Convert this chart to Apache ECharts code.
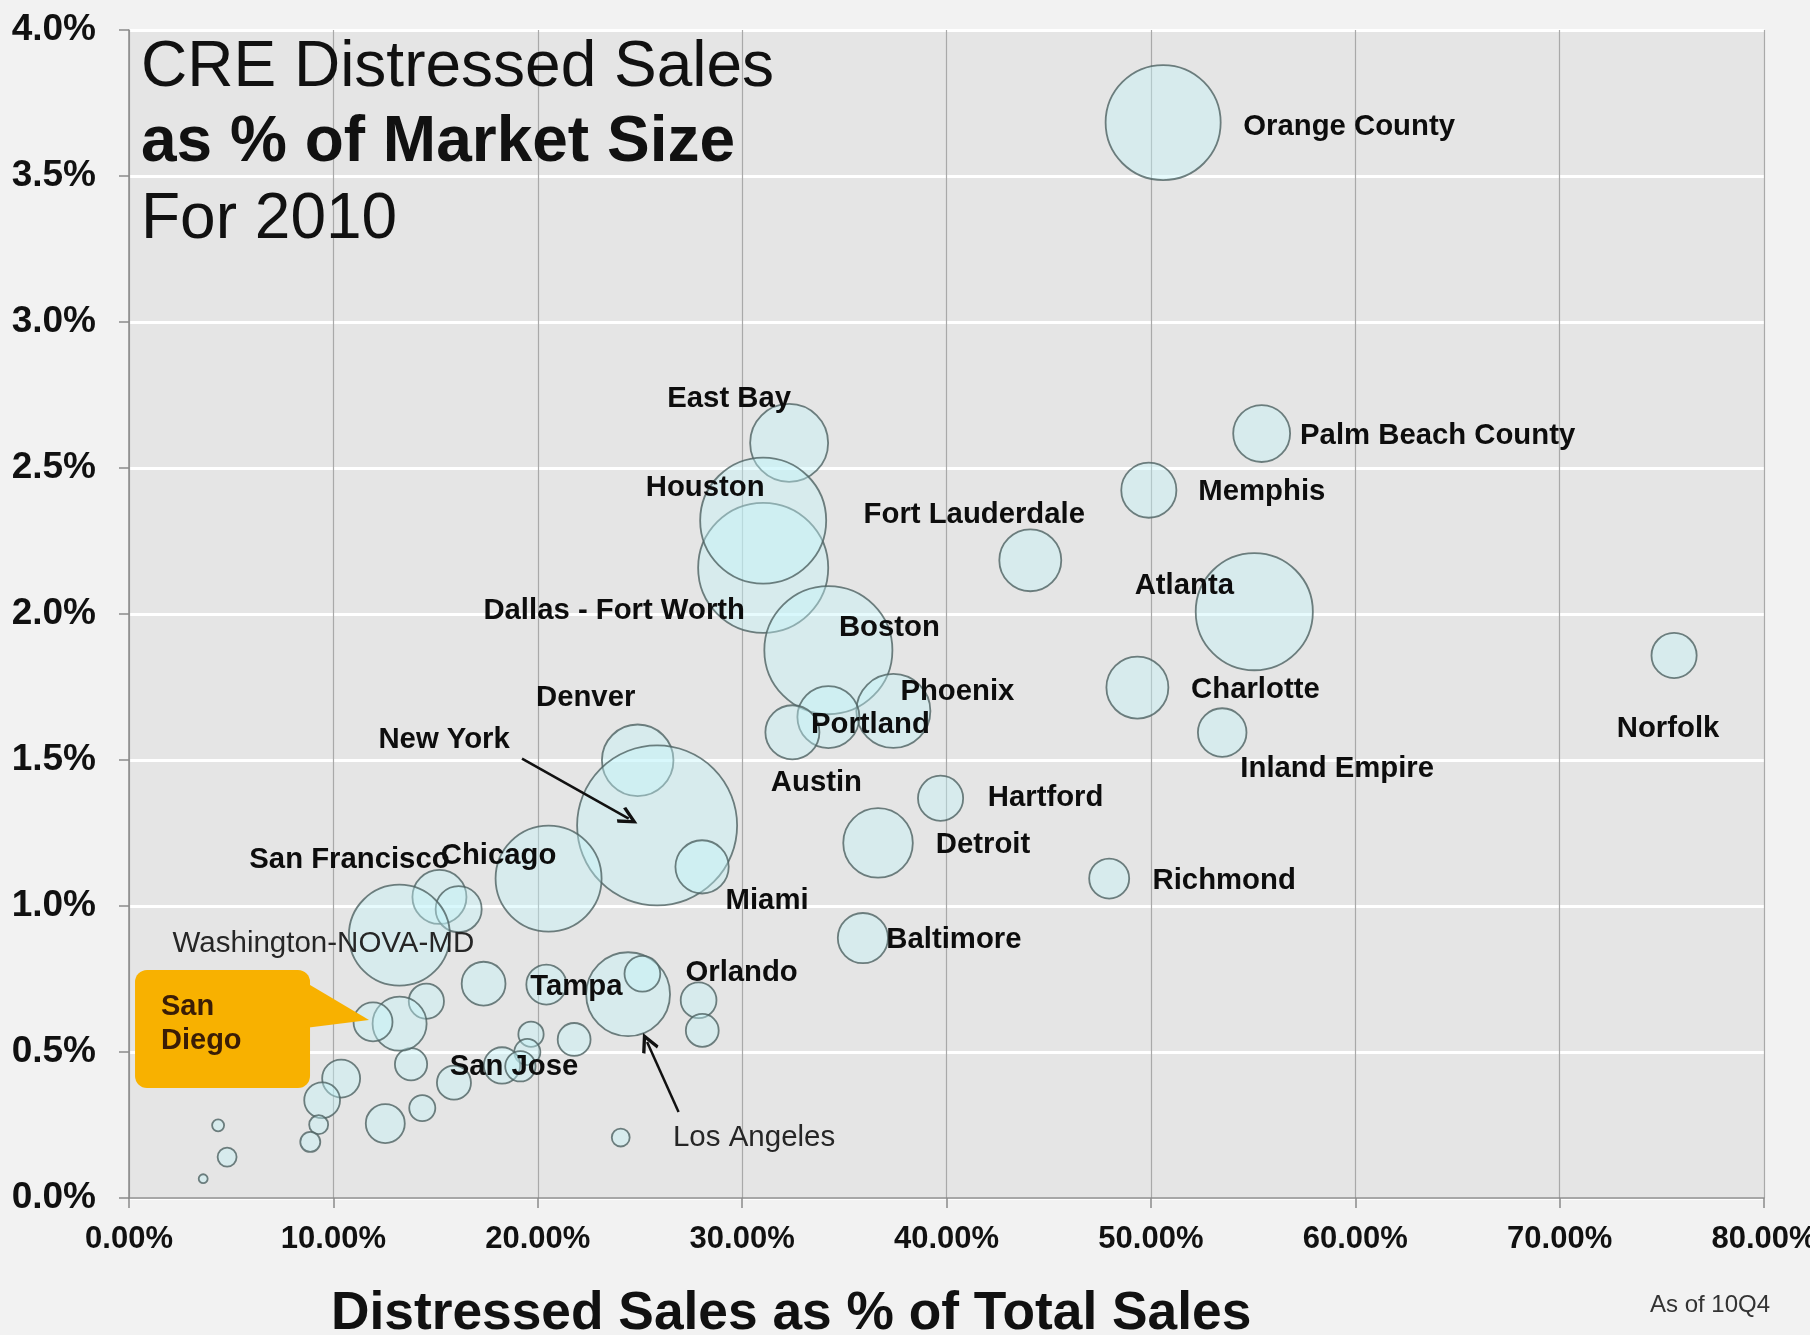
<!DOCTYPE html>
<html>
<head>
<meta charset="utf-8">
<script src="https://cdn.jsdelivr.net/npm/echarts@6/dist/echarts.min.js"></script>
<style>
html,body{margin:0;padding:0;background:#f2f2f2;}
#chart{width:1810px;height:1335px;}
</style>
</head>
<body>
<div id="chart"></div>
<script>
// ---- data ----
const markets = ['Orange County','East Bay','Dallas - Fort Worth','Houston','Boston','Fort Lauderdale','Memphis','Palm Beach County','Atlanta','Charlotte','Inland Empire','Norfolk','Phoenix','Portland','Austin','Denver','New York','Miami','Chicago','San Francisco','','Washington-NOVA-MD','Hartford','Detroit','Richmond','Baltimore','','Tampa','Los Angeles','','Orlando','','','','','San Jose','','','','','','','San Diego','','','','','','','','',''];
const distressedPct = [50.6,32.3,31.03,31.03,34.22,44.1,49.9,55.42,55.06,49.34,53.49,75.6,37.4,34.22,32.46,24.89,25.84,28.04,20.53,15.19,16.13,13.23,39.71,36.65,47.96,35.91,17.35,20.42,24.42,25.12,27.87,28.05,21.78,19.67,19.49,18.25,19.15,15.9,14.35,13.8,14.55,13.24,11.94,10.38,9.45,9.28,8.87,12.54,4.36,4.8,3.63,24.06];
const marketPct = [3.683,2.586,2.158,2.32,1.876,2.184,2.424,2.618,2.008,1.748,1.594,1.858,1.668,1.647,1.595,1.499,1.276,1.134,1.094,1.031,0.989,0.9,1.369,1.216,1.094,0.89,0.734,0.731,0.698,0.768,0.677,0.574,0.543,0.561,0.5,0.454,0.451,0.395,0.308,0.458,0.674,0.597,0.603,0.409,0.335,0.251,0.192,0.255,0.249,0.14,0.066,0.207];
const marketSize = [33.1,15.2,42.3,39.7,41.0,9.6,7.6,8.1,34.3,9.6,5.9,5.1,13.7,9.6,7.3,12.8,64,7.1,28.1,7.3,5.3,25.5,5.1,12.1,4.0,6.3,4.8,4.0,17.6,3.2,3.2,2.7,2.7,1.6,1.7,3.3,2.3,2.9,1.7,2.6,3.1,7.3,3.8,3.6,3.2,0.9,1.0,3.8,0.36,0.9,0.2,0.8];
const xTicks = [0,10,20,30,40,50,60,70,80];
const yTicks = [0,0.5,1,1.5,2,2.5,3,3.5,4];
const nyArrow = [[19.23,1.505],[24.45,1.299]];
const laArrow = [[26.89,0.2945],[25.35,0.534]];
const calloutMarket = 'San Diego';

// ---- layout (label offsets from bubble centre, px) ----
const labelLayoutMap = {
  'Orange County':[186,4],'East Bay':[-60,-44],'Dallas - Fort Worth':[-149,43],'Houston':[-58,-33],
  'Boston':[61,-22],'Fort Lauderdale':[-56,-45],'Memphis':[113,2],'Palm Beach County':[176,2],
  'Atlanta':[-70,-26],'Charlotte':[118,2],'Inland Empire':[115,36],'Norfolk':[-6,73],
  'Phoenix':[64,-19],'Portland':[42,8],'Austin':[24,51],'Denver':[-52,-62],'New York':[-213,-85],
  'Miami':[65,34],'Chicago':[-50,-23],'San Francisco':[-90,-37],'Washington-NOVA-MD':[-76,9],
  'Hartford':[105,0],'Detroit':[105,2],'Richmond':[115,2],'Baltimore':[91,2],'Tampa':[30,2],
  'Los Angeles':[126,144],'Orlando':[43,-27],'San Jose':[12,1]
};
const lightLabels = ['Washington-NOVA-MD','Los Angeles'];
const FONT = '"Liberation Sans", Arial, sans-serif';

const seriesData = markets.map((name, i) => {
  const off = labelLayoutMap[name];
  const light = lightLabels.indexOf(name) >= 0;
  return {
    name: name,
    value: [distressedPct[i], marketPct[i], marketSize[i]],
    label: off ? {
      show: true, position: 'inside', formatter: name,
      color: light ? '#262626' : '#0d0d0d', fontWeight: light ? 'normal' : 'bold',
      fontSize: light ? 29.5 : 29.3, fontFamily: FONT, align: 'center', verticalAlign: 'middle',
      textBorderWidth: 0, textBorderColor: 'transparent', opacity: 1
    } : { show: false }
  };
});

const chart = echarts.init(document.getElementById('chart'), null, {renderer: 'canvas'});
const arrowHead = 'path://M10,0 L20,17 L17,19 L10,7 L3,19 L0,17 Z';
const TOP_SHIFT = 6;

const option = {
  backgroundColor: '#f2f2f2',
  animation: false,
  title: [
    {text: 'CRE Distressed Sales', left: 141, top: 24 + TOP_SHIFT, padding: 0,
     textStyle: {fontFamily: FONT, fontSize: 64, fontWeight: 'normal', color: '#111', lineHeight: 76}},
    {text: 'as % of Market Size', left: 141, top: 99 + TOP_SHIFT, padding: 0,
     textStyle: {fontFamily: FONT, fontSize: 64, fontWeight: 'bold', color: '#111', lineHeight: 76}},
    {text: 'For 2010', left: 141, top: 176 + TOP_SHIFT, padding: 0,
     textStyle: {fontFamily: FONT, fontSize: 64, fontWeight: 'normal', color: '#111', lineHeight: 76}},
    {text: 'Distressed Sales as % of Total Sales', left: 331, top: 1284, padding: 0,
     textStyle: {fontFamily: FONT, fontSize: 53.3, fontWeight: 'bold', color: '#111', lineHeight: 60}},
    {text: 'As of 10Q4', left: 1650, top: 1291, padding: 0,
     textStyle: {fontFamily: FONT, fontSize: 24, fontWeight: 'normal', color: '#333', lineHeight: 28}}
  ],
  grid: {left: 129, right: 46, top: 30, bottom: 137, containLabel: false, outerBoundsMode: 'none',
         show: true, backgroundColor: '#e5e5e5', borderWidth: 0},
  xAxis: {
    type: 'value', min: xTicks[0], max: xTicks[xTicks.length-1], interval: xTicks[1]-xTicks[0],
    axisLine: {show: true, lineStyle: {color: '#8a8a8a', width: 1.5}},
    axisTick: {show: true, length: 10, lineStyle: {color: '#8a8a8a', width: 1.5}},
    axisLabel: {formatter: v => v.toFixed(2) + '%', fontFamily: FONT, fontSize: 31, fontWeight: 'bold', color: '#111', margin: 26},
    splitLine: {show: true, lineStyle: {color: '#a9a9a9', width: 1.2}}
  },
  yAxis: {
    type: 'value', min: yTicks[0], max: yTicks[yTicks.length-1], interval: yTicks[1]-yTicks[0],
    axisLine: {show: true, lineStyle: {color: '#8a8a8a', width: 1.5}},
    axisTick: {show: true, length: 10, lineStyle: {color: '#8a8a8a', width: 1.5}},
    axisLabel: {formatter: v => v.toFixed(1) + '%', fontFamily: FONT, fontSize: 37, fontWeight: 'bold', color: '#111', margin: 33},
    splitLine: {show: true, lineStyle: {color: '#ffffff', width: 3}}
  },
  series: [{
    type: 'scatter',
    data: seriesData,
    symbol: 'circle',
    symbolSize: v => 20 * Math.sqrt(v[2]),
    itemStyle: {color: 'rgba(196,246,250,0.5)', borderColor: '#4d6262', borderWidth: 1.8},
    emphasis: {disabled: true},
    labelLayout: function (params) {
      const off = labelLayoutMap[markets[params.dataIndex]];
      return off ? {dx: off[0], dy: off[1], hideOverlap: false} : {};
    },
    markLine: {
      silent: true,
      symbol: ['none', arrowHead],
      symbolSize: [18, 20],
      label: {show: false},
      lineStyle: {color: '#111', width: 2.5, type: 'solid'},
      emphasis: {disabled: true},
      data: [
        [{coord: nyArrow[0]}, {coord: nyArrow[1]}],
        [{coord: laArrow[0]}, {coord: laArrow[1]}]
      ]
    }
  }]
};
chart.setOption(option);

// San Diego callout, anchored to its bubble through the axes
const idx = markets.indexOf(calloutMarket);
const p = chart.convertToPixel({seriesIndex: 0}, [distressedPct[idx], marketPct[idx]]);
const cx = p[0], cy = p[1];
chart.setOption({
  graphic: {elements: [
    {id: 'cbox', type: 'rect', shape: {x: cx - 238, y: cy - 52, width: 175, height: 118, r: 12},
     style: {fill: '#f8b100'}, z: 100},
    {id: 'cptr', type: 'polygon', shape: {points: [[cx - 68, cy - 40], [cx - 4, cy - 2], [cx - 68, cy + 6]]},
     style: {fill: '#f8b100'}, z: 100},
    {id: 'ct1', type: 'text', x: cx - 212, y: cy - 15, z: 101,
     style: {text: 'San', fill: '#3a1d06', font: 'bold 29px ' + FONT, textAlign: 'left', textVerticalAlign: 'middle', verticalAlign: 'middle'}},
    {id: 'ct2', type: 'text', x: cx - 212, y: cy + 19, z: 101,
     style: {text: 'Diego', fill: '#3a1d06', font: 'bold 29px ' + FONT, textAlign: 'left', textVerticalAlign: 'middle', verticalAlign: 'middle'}}
  ]}
});
</script>
</body>
</html>
